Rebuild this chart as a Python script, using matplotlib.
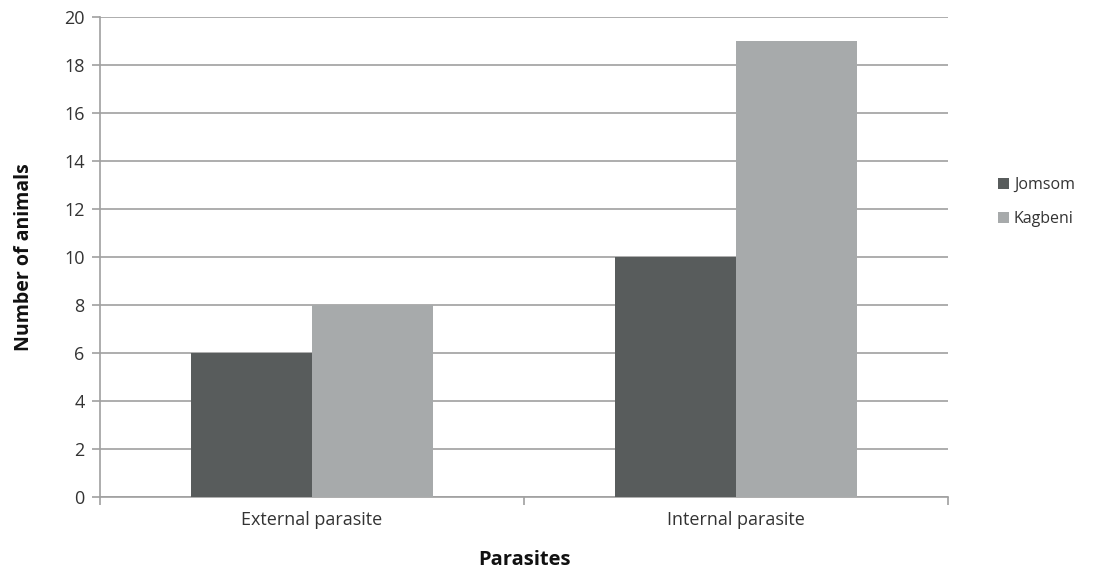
import matplotlib
matplotlib.use("Agg")
from matplotlib import pyplot as plt
import numpy as np

# data
categories = ["External parasite", "Internal parasite"]
jomsom = [6, 10]
kagbeni = [8, 19]

plt.rcParams['font.family'] = ['Open Sans', 'DejaVu Sans']
txt = '#333333'

fig = plt.figure(figsize=(10.94, 5.70), dpi=100)
ax = fig.add_axes([100/1094, 1 - 497/570, 848/1094, 480/570])

x = np.arange(len(categories))
w = 0.285
ax.bar(x - w/2, jomsom, w, color='#585c5c', label='Jomsom', zorder=3)
ax.bar(x + w/2, kagbeni, w, color='#a7aaab', label='Kagbeni', zorder=3)

ax.set_xlim(-0.5, 1.5)
ax.set_ylim(0, 20)
ax.set_yticks(np.arange(0, 21, 2))
ax.yaxis.grid(True, color='#a0a0a0', linewidth=1.2, zorder=0)
ax.set_axisbelow(True)

ax.set_xticks(x)
ax.set_xticklabels(categories, fontsize=13, color=txt)
ax.set_xticks([-0.5, 0.5, 1.5], minor=True)
ax.tick_params(axis='x', which='major', length=0, pad=10)
ax.tick_params(axis='x', which='minor', length=6, color='#a0a0a0', width=1.2)
ax.tick_params(axis='y', length=6, color='#a0a0a0', width=1.2, labelsize=13,
               labelcolor=txt, pad=5)

for s in ['top', 'right']:
    ax.spines[s].set_visible(False)
for s in ['left', 'bottom']:
    ax.spines[s].set_color('#a0a0a0')
    ax.spines[s].set_linewidth(1.2)

ax.set_xlabel('Parasites', fontsize=14.5, fontweight='bold', labelpad=15, color='#111111')
ax.set_ylabel('Number of animals', fontsize=14, fontweight='bold', labelpad=22, color='#111111')

leg = fig.legend(*ax.get_legend_handles_labels(), loc='center left',
                 bbox_to_anchor=(998/1094, 1 - 202/570), frameon=False,
                 borderpad=0, borderaxespad=0,
                 fontsize=11.5, handlelength=0.7, handleheight=0.7, handletextpad=0.3,
                 labelspacing=1.1)
for t in leg.get_texts():
    t.set_color(txt)

fig.savefig('out.png', dpi=100)
